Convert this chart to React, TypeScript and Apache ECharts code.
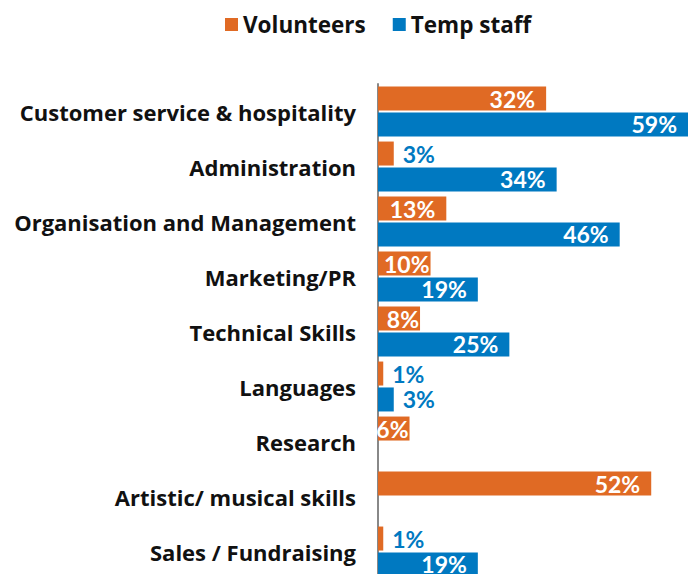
import React, { useEffect, useRef } from "react";
import * as echarts from "echarts";

const categories = [
  "Customer service & hospitality",
  "Administration",
  "Organisation and Management",
  "Marketing/PR",
  "Technical Skills",
  "Languages",
  "Research",
  "Artistic/ musical skills",
  "Sales / Fundraising",
];
const volunteers: (number | null)[] = [32, 3, 13, 10, 8, 1, 6, 52, 1];
const tempStaff: (number | null)[] = [59, 34, 46, 19, 25, 3, null, null, 19];

const ORANGE = "#E06A24";
const BLUE = "#0079C1";
const LABEL_FONT = "Lato";
const TEXT_FONT = "Open Sans";

function buildData(values: (number | null)[]) {
  return values.map((v) => {
    if (v == null) return null;
    if (v <= 3) {
      return { value: v, label: { position: "right", color: BLUE, distance: 9 } };
    }
    if (v < 12) {
      return { value: v, label: { position: "insideRight", color: "#fff", distance: 1 } };
    }
    return { value: v, label: { position: "insideRight", color: "#fff", distance: 11 } };
  });
}

export default function App() {
  const ref = useRef<HTMLDivElement>(null);
  useEffect(() => {
    if (!ref.current) return;
    const chart = echarts.init(ref.current, null, { renderer: "svg" });
    const labelBase = {
      show: true,
      fontFamily: LABEL_FONT,
      fontWeight: "bold",
      fontSize: 23,
      formatter: "{c}%",
    };
    chart.setOption({
      animation: false,
      legend: {
        top: 8,
        left: 220,
        itemWidth: 13,
        itemHeight: 13,
        itemGap: 27,
        itemTextGap: 7,
        icon: "rect",
        textStyle: { fontFamily: TEXT_FONT, fontWeight: "bold", fontSize: 22.5, color: "#111" },
        data: ["Volunteers", "Temp staff"],
      },
      grid: { left: 378, right: 0, top: 84, height: 495 },
      xAxis: {
        type: "value",
        min: 0,
        max: 59,
        show: false,
      },
      yAxis: {
        type: "category",
        inverse: true,
        data: categories,
        axisLine: { show: true, lineStyle: { color: "#888", width: 2 } },
        axisTick: { show: false },
        axisLabel: {
          margin: 22,
          fontFamily: TEXT_FONT,
          fontWeight: "bold",
          fontSize: 22,
          color: "#111",
        },
      },
      series: [
        {
          name: "Volunteers",
          type: "bar",
          barWidth: 24,
          barGap: "8%",
          itemStyle: { color: ORANGE },
          label: labelBase,
          data: buildData(volunteers),
        },
        {
          name: "Temp staff",
          type: "bar",
          barWidth: 24,
          barGap: "8%",
          itemStyle: { color: BLUE },
          label: labelBase,
          data: buildData(tempStaff),
        },
      ],
    });
    return () => chart.dispose();
  }, []);
  return (
    <div
      ref={ref}
      style={{ position: "fixed", left: 0, top: 0, width: 688, height: 600, background: "#fff" }}
    />
  );
}
